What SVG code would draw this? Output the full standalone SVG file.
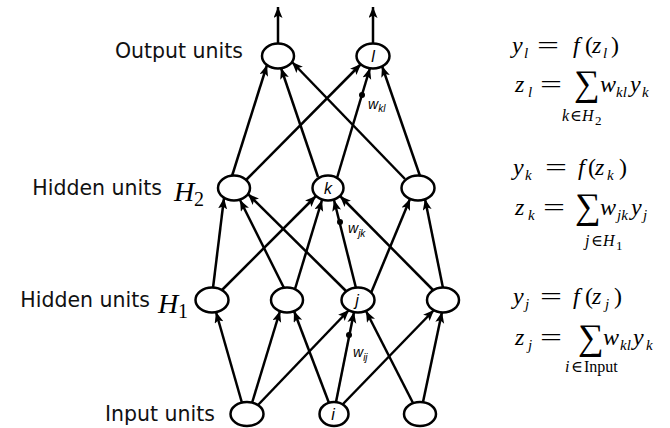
<svg xmlns="http://www.w3.org/2000/svg" width="670" height="428" viewBox="0 0 670 428">
<style>
.node ellipse{fill:#fff;stroke:#000;stroke-width:2.5}
.edge line{stroke:#000;stroke-width:2.5;marker-end:url(#ah)}
.lbl{font-family:"DejaVu Sans","Liberation Sans",sans-serif;font-size:20.5px;fill:#111}
.hl{font-family:"Liberation Serif","DejaVu Serif",serif;font-style:italic;font-size:28px}
.hs{font-family:"Liberation Serif","DejaVu Serif",serif;font-size:20px}
.nl{font-family:"Liberation Sans",Arial,sans-serif;font-style:italic;font-size:16px;text-anchor:middle}
.w{font-family:"Liberation Sans",Arial,sans-serif;font-style:italic;font-size:14px}
.ws{font-size:10px}
.m{font-family:"Liberation Serif","DejaVu Serif",serif;font-size:24px}
.i{font-style:italic}
.s{font-size:15px}
.ss{font-size:16px}
.s2{font-size:13px}
.sum{font-family:"Liberation Serif","DejaVu Serif",serif;font-size:36px}
</style>
<defs>
<marker id="ah" markerUnits="userSpaceOnUse" markerWidth="12" markerHeight="10" refX="11" refY="4.5" orient="auto">
<path d="M0,0 L11,4.5 L0,9 L2.5,4.5 Z" fill="#000"/>
</marker>
</defs>

<g id="connectors" class="edge">
<line x1="278" y1="43" x2="278" y2="7"/>
<line x1="373" y1="43" x2="373" y2="7"/>
<line x1="232" y1="176" x2="267" y2="65"/>
<line x1="246" y1="180" x2="361" y2="64"/>
<line x1="318" y1="177" x2="281" y2="68"/>
<line x1="337" y1="178" x2="370" y2="68"/>
<line x1="405" y1="179" x2="292" y2="62"/>
<line x1="420" y1="176" x2="382" y2="66"/>
<line x1="213" y1="288" x2="224" y2="198"/>
<line x1="221" y1="291" x2="316" y2="196"/>
<line x1="284" y1="288" x2="240" y2="200"/>
<line x1="295" y1="289" x2="322" y2="200"/>
<line x1="346" y1="291" x2="248" y2="194"/>
<line x1="356" y1="288" x2="334" y2="200"/>
<line x1="371" y1="293" x2="410" y2="199"/>
<line x1="433" y1="290" x2="340" y2="196"/>
<line x1="443" y1="288" x2="425" y2="199"/>
<line x1="242" y1="403" x2="216" y2="312"/>
<line x1="252" y1="403" x2="280" y2="311"/>
<line x1="258" y1="405" x2="349" y2="310"/>
<line x1="329" y1="403" x2="294" y2="311"/>
<line x1="336" y1="402" x2="354" y2="312"/>
<line x1="343" y1="404" x2="434" y2="310"/>
<line x1="413" y1="403" x2="366" y2="311"/>
<line x1="423" y1="402" x2="442" y2="312"/>
</g>
<g id="weight-dots" fill="#000">
<circle cx="362" cy="95" r="3"/>
<circle cx="340" cy="222" r="3"/>
<circle cx="349" cy="335" r="3"/>
</g>

<g id="out1" class="node"><ellipse cx="278" cy="56" rx="16" ry="12.5"/></g>
<g id="out-l" class="node"><ellipse cx="373" cy="56" rx="16.5" ry="12.5"/><text class="nl" x="373" y="62">l</text></g>
<g id="h2-1" class="node"><ellipse cx="234" cy="188" rx="16" ry="12.5"/></g>
<g id="h2-k" class="node"><ellipse cx="328" cy="188" rx="15.5" ry="12.5"/><text class="nl" x="328" y="194">k</text></g>
<g id="h2-3" class="node"><ellipse cx="418" cy="188" rx="16.5" ry="12.5"/></g>
<g id="h1-1" class="node"><ellipse cx="212" cy="300" rx="16.5" ry="12.5"/></g>
<g id="h1-2" class="node"><ellipse cx="287" cy="300" rx="16" ry="12.5"/></g>
<g id="h1-j" class="node"><ellipse cx="358" cy="300" rx="16.5" ry="12.5"/><text class="nl" x="357" y="306">j</text></g>
<g id="h1-4" class="node"><ellipse cx="443" cy="300" rx="16" ry="12.5"/></g>
<g id="in1" class="node"><ellipse cx="247" cy="414" rx="16.5" ry="12"/></g>
<g id="in-i" class="node"><ellipse cx="334" cy="414" rx="14.5" ry="12"/><text class="nl" x="333" y="420">i</text></g>
<g id="in3" class="node"><ellipse cx="420" cy="414" rx="16" ry="12"/></g>

<g id="weights">
<text class="w" x="368" y="109">w<tspan class="ws" y="112">kl</tspan></text>
<text class="w" x="348" y="233">w<tspan class="ws" y="237">jk</tspan></text>
<text class="w" x="353" y="357">w<tspan class="ws" y="361">ij</tspan></text>
</g>

<g id="row-labels">
<text class="lbl" x="243" y="58" text-anchor="end">Output units</text>
<text class="lbl" x="162" y="195" text-anchor="end">Hidden units</text>
<text class="hl" x="174" y="201">H</text><text class="hs" x="194" y="206">2</text>
<text class="lbl" x="150" y="307" text-anchor="end">Hidden units</text>
<text class="hl" x="158" y="313">H</text><text class="hs" x="178" y="318">1</text>
<text class="lbl" x="215" y="421" text-anchor="end">Input units</text>
</g>

<g id="equations" class="m">
<text><tspan class="i" x="512" y="53">y</tspan><tspan class="i s" x="524" y="58">l</tspan><tspan x="537" y="53" textLength="22" lengthAdjust="spacingAndGlyphs">=</tspan><tspan class="i" x="573" y="53">f</tspan><tspan x="585" y="53">(</tspan><tspan class="i" x="592" y="53">z</tspan><tspan class="i s" x="603" y="58">l</tspan><tspan x="611" y="53">)</tspan></text>
<text><tspan class="i" x="515" y="92">z</tspan><tspan class="i s" x="528" y="97">l</tspan><tspan x="540" y="92" textLength="22" lengthAdjust="spacingAndGlyphs">=</tspan><tspan class="i" x="600" y="92">w</tspan><tspan class="i s" x="616" y="97">kl</tspan><tspan class="i" x="630" y="92">y</tspan><tspan class="i s" x="642" y="97">k</tspan></text>
<text class="sum" x="574" y="95">∑</text>
<text class="ss"><tspan class="i" x="562" y="121">k</tspan><tspan x="570" y="121">∈</tspan><tspan class="i" x="582" y="121">H</tspan><tspan class="s2" x="595" y="125">2</tspan></text>

<text><tspan class="i" x="513" y="175">y</tspan><tspan class="i s" x="525" y="180">k</tspan><tspan x="545" y="175" textLength="22" lengthAdjust="spacingAndGlyphs">=</tspan><tspan class="i" x="578" y="175">f</tspan><tspan x="588" y="175">(</tspan><tspan class="i" x="595" y="175">z</tspan><tspan class="i s" x="607" y="180">k</tspan><tspan x="619" y="175">)</tspan></text>
<text><tspan class="i" x="515" y="215">z</tspan><tspan class="i s" x="528" y="220">k</tspan><tspan x="543" y="215" textLength="22" lengthAdjust="spacingAndGlyphs">=</tspan><tspan class="i" x="600" y="215">w</tspan><tspan class="i s" x="617" y="220">jk</tspan><tspan class="i" x="631" y="215">y</tspan><tspan class="i s" x="643" y="220">j</tspan></text>
<text class="sum" x="575" y="218">∑</text>
<text class="ss"><tspan class="i" x="585" y="246">j</tspan><tspan x="591" y="246">∈</tspan><tspan class="i" x="603" y="246">H</tspan><tspan class="s2" x="616" y="250">1</tspan></text>

<text><tspan class="i" x="513" y="304">y</tspan><tspan class="i s" x="525" y="309">j</tspan><tspan x="540" y="304" textLength="22" lengthAdjust="spacingAndGlyphs">=</tspan><tspan class="i" x="573" y="304">f</tspan><tspan x="585" y="304">(</tspan><tspan class="i" x="592" y="304">z</tspan><tspan class="i s" x="605" y="309">j</tspan><tspan x="614" y="304">)</tspan></text>
<text><tspan class="i" x="515" y="345">z</tspan><tspan class="i s" x="528" y="350">j</tspan><tspan x="540" y="345" textLength="22" lengthAdjust="spacingAndGlyphs">=</tspan><tspan class="i" x="603" y="345">w</tspan><tspan class="i s" x="620" y="350">kl</tspan><tspan class="i" x="633" y="345">y</tspan><tspan class="i s" x="646" y="350">k</tspan></text>
<text class="sum" x="578" y="349">∑</text>
<text class="ss"><tspan class="i" x="565" y="372">i</tspan><tspan x="571" y="372">∈</tspan><tspan x="584" y="372">Input</tspan></text>
</g>
</svg>
